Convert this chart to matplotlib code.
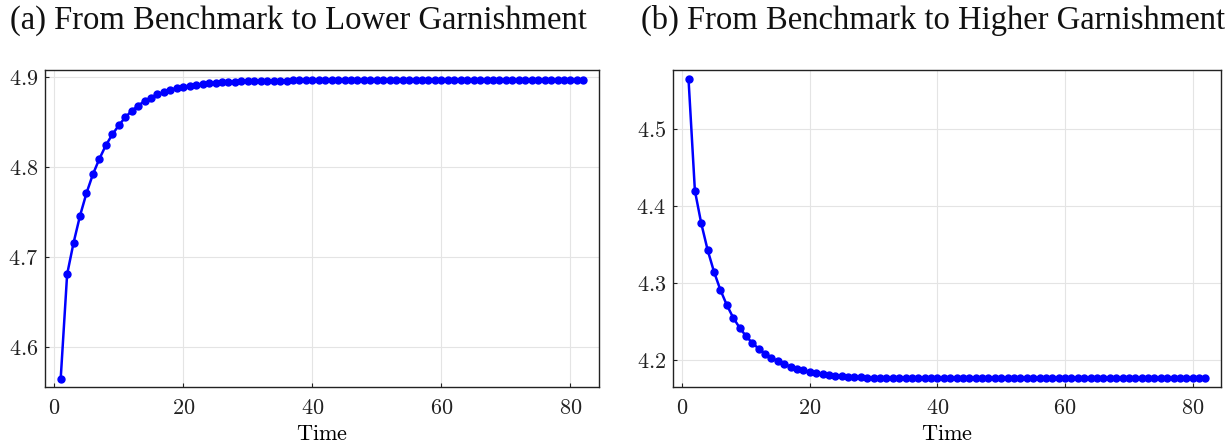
"""
Transition paths after a change in garnishment.
"""
import matplotlib
matplotlib.use("Agg")
import matplotlib.pyplot as plt
from matplotlib.ticker import FuncFormatter

# time periods 1..82
time = list(range(1, 83))

lower_garnishment = [
    4.565, 4.681, 4.716, 4.746, 4.771, 4.792, 4.809, 4.824, 4.836, 4.846,
    4.855, 4.862, 4.868, 4.873, 4.877, 4.8805, 4.883, 4.8856, 4.8875, 4.889,
    4.8902, 4.8912, 4.892, 4.8927, 4.8933, 4.8938, 4.8942, 4.8945, 4.8948, 4.895,
    4.8952, 4.8954, 4.8955, 4.8956, 4.8957, 4.8958, 4.8959, 4.8959, 4.896, 4.896,
    4.896, 4.896, 4.896, 4.896, 4.896, 4.896, 4.896, 4.896, 4.896, 4.896,
    4.896, 4.896, 4.896, 4.896, 4.896, 4.896, 4.896, 4.896, 4.896, 4.896,
    4.896, 4.896, 4.896, 4.896, 4.896, 4.896, 4.896, 4.896, 4.896, 4.896,
    4.896, 4.896, 4.896, 4.896, 4.896, 4.896, 4.896, 4.896, 4.896, 4.896,
    4.896, 4.896,
]

higher_garnishment = [
    4.565, 4.420, 4.3775, 4.343, 4.3147, 4.2913, 4.2718, 4.2554, 4.2424, 4.2316,
    4.2225, 4.2152, 4.2087, 4.2035, 4.1987, 4.1948, 4.1918, 4.189, 4.187, 4.185,
    4.1835, 4.1822, 4.1811, 4.1802, 4.1795, 4.1789, 4.1784, 4.178, 4.1777, 4.1775,
    4.1773, 4.1771, 4.177, 4.1769, 4.1768, 4.1767, 4.1767, 4.1766, 4.1766, 4.1766,
    4.1766, 4.1766, 4.1766, 4.1766, 4.1766, 4.1766, 4.1766, 4.1766, 4.1766, 4.1766,
    4.1766, 4.1766, 4.1766, 4.1766, 4.1766, 4.1766, 4.1766, 4.1766, 4.1766, 4.1766,
    4.1766, 4.1766, 4.1766, 4.1766, 4.1766, 4.1766, 4.1766, 4.1766, 4.1766, 4.1766,
    4.1766, 4.1766, 4.1766, 4.1766, 4.1766, 4.1766, 4.1766, 4.1766, 4.1766, 4.1766,
    4.1766, 4.1766,
]

titles = ["(a) From Benchmark to Lower Garnishment",
          "(b) From Benchmark to Higher Garnishment"]
xticks = [0, 20, 40, 60, 80]
yticks_left = [4.6, 4.7, 4.8, 4.9]
yticks_right = [4.2, 4.3, 4.4, 4.5]

plt.rcParams["mathtext.fontset"] = "cm"

W, H = 1232, 445
fig = plt.figure(figsize=(W / 100, H / 100), dpi=100)


def px_axes(left, top, right, bottom):
    return fig.add_axes([left / W, 1 - bottom / H, (right - left) / W, (bottom - top) / H])


def style_axes(ax, yticks, title, title_x):
    ax.set_xlim(-1.43, 84.43)
    ax.set_xticks(xticks)
    ax.set_yticks(yticks)
    fmt = FuncFormatter(lambda v, p: r"$%g$" % round(v, 3))
    ax.xaxis.set_major_formatter(fmt)
    ax.yaxis.set_major_formatter(fmt)
    ax.tick_params(direction="in", length=3, width=0.8, labelsize=16, pad=5,
                   colors="#222222")
    ax.tick_params(axis="x", pad=8)
    ax.grid(True, color="#e4e4e4", linewidth=0.8)
    ax.set_axisbelow(True)
    for s in ax.spines.values():
        s.set_linewidth(1.0)
        s.set_color("#222222")
    ax.set_xlabel(r"$\mathrm{Time}$", fontsize=16, labelpad=4)
    # title centred over the whole panel, a bit left of the axes centre
    ax.text(title_x, 1.155, title, transform=ax.transAxes, ha="center",
            va="center", fontsize=23.5, family="Liberation Serif", color="#111111")


ax1 = px_axes(45, 70, 599, 387)
ax1.plot(time, lower_garnishment, color="#0000ff", linewidth=1.8,
         marker="o", markersize=5)
ax1.set_ylim(4.556, 4.9075)
style_axes(ax1, yticks_left, titles[0], 0.457)

ax2 = px_axes(673, 70, 1221, 387)
ax2.plot(time, higher_garnishment, color="#0000ff", linewidth=1.8,
         marker="o", markersize=5)
ax2.set_ylim(4.1655, 4.5765)
style_axes(ax2, yticks_right, titles[1], 0.474)

fig.savefig("out.png", dpi=100)
